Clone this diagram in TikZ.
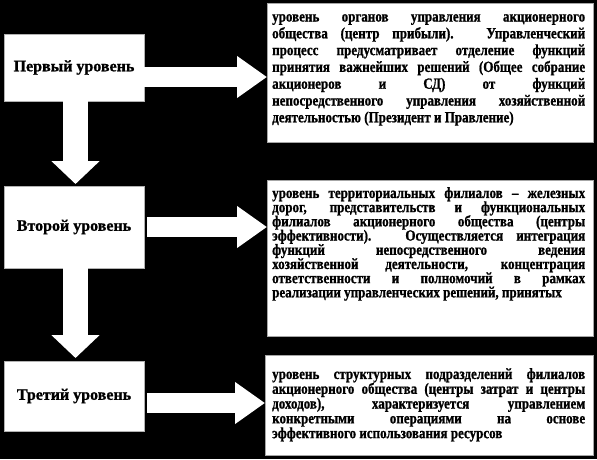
\documentclass[tikz,border=0pt]{standalone}
\usepackage{fontspec}
\setmainfont{Liberation Serif}[BoldFeatures={FakeBold=1}]
\newfontfamily\narrowserif[FakeStretch=0.84,BoldFeatures={FakeBold=1}]{Liberation Serif}
\newcommand\tightlines{\lineskiplimit=-20pt\relax}
\usetikzlibrary{arrows.meta}

\tikzset{
  levelbox/.style={draw=gray!60,fill=white,minimum width=140pt,inner sep=0pt,outer sep=0pt,
    font=\bfseries\fontsize{16}{18}\selectfont},
  infobox/.style={draw=gray!70,fill=white,anchor=north west,inner sep=0pt,outer sep=0pt},
  infotext/.style={anchor=north west,text width=313pt,align=justify,inner sep=0pt},
  rightarrow/.style={white,line width=20pt,-{Triangle[length=30pt,width=40pt]}},
  downarrow/.style={white,line width=25pt,-{Triangle[length=23pt,width=47pt]}}
}

\begin{document}
\begin{tikzpicture}[x=1pt,y=-1pt]
  \fill[black] (0,0) rectangle (597,459);

  % levels on the left
  \node[levelbox,minimum height=67pt] (l1) at (74,67.5) {Первый уровень};
  \node[levelbox,minimum height=82pt] (l2) at (74,227) {Второй уровень};
  \node[levelbox,minimum height=70pt] (l3) at (74,396) {Третий уровень};

  % descriptions
  \node[infobox,minimum width=326pt,minimum height=139pt] (r1) at (267,3) {};
  \node[infobox,minimum width=326pt,minimum height=156pt] (r2) at (267,180) {};
  \node[infobox,minimum width=328pt,minimum height=100pt] (r3) at (265,355) {};

  \node[infotext,font=\narrowserif\bfseries\fontsize{15.5}{16.8}\selectfont\tightlines] (t1) at (272,14)
  {уровень органов управления акционерного\linebreak
  общества (центр прибыли). Управленческий\linebreak
  процесс предусматривает отделение функций\linebreak
  принятия важнейших решений (Общее собрание\linebreak
  акционеров и СД) от функций\linebreak
  непосредственного управления хозяйственной\linebreak
  деятельностью (Президент и Правление)};

  \node[infotext,font=\narrowserif\bfseries\fontsize{15.5}{14.2}\selectfont\tightlines] (t2) at (272,187)
  {уровень территориальных филиалов – железных\linebreak
  дорог, представительств и функциональных\linebreak
  филиалов акционерного общества (центры\linebreak
  эффективности). Осуществляется интеграция\linebreak
  функций непосредственного ведения\linebreak
  хозяйственной деятельности, концентрация\linebreak
  ответственности и полномочий в рамках\linebreak
  реализации управленческих решений, принятых};

  \node[infotext,font=\narrowserif\bfseries\fontsize{15.5}{14.8}\selectfont\tightlines] (t3) at (272,368)
  {уровень структурных подразделений филиалов\linebreak
  акционерного общества (центры затрат и центры\linebreak
  доходов), характеризуется управлением\linebreak
  конкретными операциями на основе\linebreak
  эффективного использования ресурсов};

  % arrows
  \coordinate (a1) at ([yshift=-9.5pt]l1.east);
  \coordinate (a2) at ([xshift=3pt]l2.east);
  \coordinate (a3) at ([xshift=3pt,yshift=-7pt]l3.east);
  \draw[rightarrow] (a1) -- (a1 -| r1.west);
  \draw[rightarrow] (a2) -- (a2 -| r2.west);
  \draw[rightarrow] (a3) -- (a3 -| r3.west);

  \draw[downarrow] ([xshift=1.5pt]l1.south) -- ([xshift=1.5pt,yshift=2pt]l2.north);
  \draw[downarrow] ([xshift=1.5pt]l2.south) -- ([xshift=1.5pt,yshift=3pt]l3.north);
\end{tikzpicture}
\end{document}
